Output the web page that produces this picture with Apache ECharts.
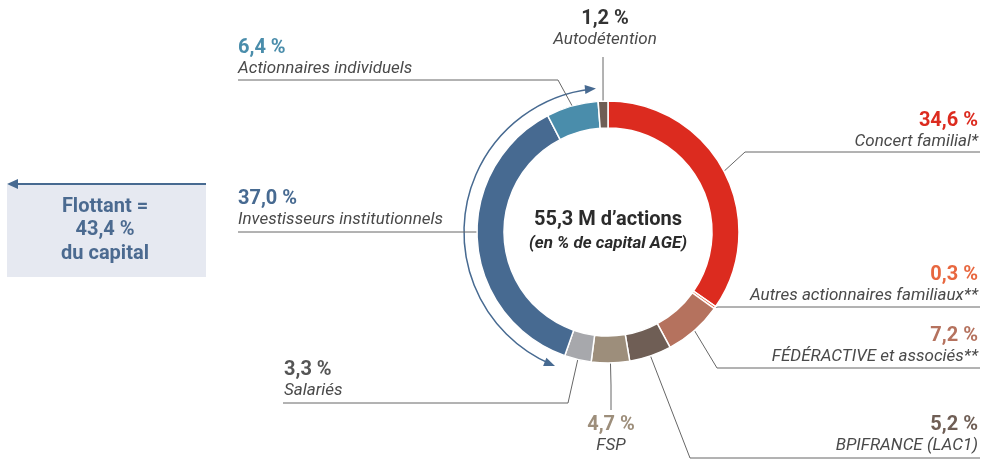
<!DOCTYPE html>
<html>
<head>
<meta charset="utf-8">
<script src="https://cdn.jsdelivr.net/npm/echarts@6/dist/echarts.min.js"></script>
<style>
  html, body { margin: 0; padding: 0; background: #fff; }
  #main { width: 981px; height: 459px; }
</style>
</head>
<body>
<div id="main"></div>
<script>
// Répartition du capital AGE
var names = ['Concert familial*', 'Autres actionnaires familiaux**', 'FÉDÉRACTIVE et associés**',
  'BPIFRANCE (LAC1)', 'FSP', 'Salariés', 'Investisseurs institutionnels',
  'Actionnaires individuels', 'Autodétention'];
var values = [34.6, 0.3, 7.2, 5.2, 4.7, 3.3, 37.0, 6.4, 1.2];
var pctLabels = ['34,6 %', '0,3 %', '7,2 %', '5,2 %', '4,7 %', '3,3 %', '37,0 %', '6,4 %', '1,2 %'];
var colors = ['#dc2b1f', '#e4603c', '#b5725e', '#6f5e55', '#9d8e7b', '#a7a8ac', '#476a91', '#4a8dab', '#6f5e55'];
var pctColors = ['#dc2b1f', '#e8673f', '#b5725e', '#6f5e55', '#9d8e7b', '#555555', '#476a91', '#4a8dab', '#333333'];
var floatText = ['Flottant =', '43,4 %', 'du capital'];
var centerTitle = '55,3 M d\u2019actions';
var centerSub = '(en % de capital AGE)';

// géométrie
var CX = 608, CY = 232, R_IN = 104, R_OUT = 131;

// position des étiquettes (x, bas du bloc, alignement, coude, fin du trait)
var labelPos = [
  { x: 978, y: 152, align: 'right', elbow: [745, 152], end: [980, 152] },
  { x: 978, y: 306, align: 'right', elbow: [718, 307], end: [980, 307] },
  { x: 978, y: 367, align: 'right', elbow: [717, 368], end: [980, 368] },
  { x: 978, y: 456, align: 'right', elbow: [690, 458], end: [980, 458] },
  { x: 611, y: 456, align: 'center', elbow: [611, 385], end: [611, 410] },
  { x: 284, y: 401, align: 'left', elbow: [568, 403], end: [283, 403] },
  { x: 238, y: 230, align: 'left', start: 180, elbow: [400, 232], end: [238, 232] },
  { x: 238, y: 79, align: 'left', elbow: [558, 80], end: [238, 80] },
  { x: 605, y: 50, align: 'center', elbow: [603, 70], end: [603, 57] }
];

var chart = echarts.init(document.getElementById('main'), null, { renderer: 'canvas' });

var data = values.map(function (v, i) {
  return {
    name: names[i],
    value: v,
    itemStyle: { color: colors[i] },
    label: {
      formatter: '{p|' + pctLabels[i] + '}\n{n|' + names[i] + '}',
      rich: {
        p: { fontSize: 20, fontWeight: 'bold', color: pctColors[i], lineHeight: 22, fontFamily: 'Roboto' },
        n: { fontSize: 17, fontStyle: 'italic', color: '#4a4a4a', lineHeight: 20, fontFamily: 'Roboto' }
      }
    }
  };
});

// flèche courbe du flottant
function arrowHead(x, y, dx, dy) {
  var len = 11, w = 4.5;
  var nx = -dy, ny = dx;
  return [[x, y], [x - dx * len + nx * w, y - dy * len + ny * w], [x - dx * len - nx * w, y - dy * len - ny * w]];
}
var ARC_R = 144;
var a1 = 111.6 * Math.PI / 180, a2 = 265.2 * Math.PI / 180;
var topTip = [CX + ARC_R * Math.cos(a2), CY + ARC_R * Math.sin(a2)];
var botTip = [CX + ARC_R * Math.cos(a1), CY + ARC_R * Math.sin(a1)];

var option = {
  animation: false,
  series: [{
    type: 'pie',
    center: [CX, CY],
    radius: [R_IN, R_OUT],
    startAngle: 90,
    clockwise: true,
    avoidLabelOverlap: false,
    silent: true,
    itemStyle: { borderColor: '#fff', borderWidth: 1.5 },
    label: { show: true, position: 'outside' },
    labelLine: { show: true, length: 10, length2: 10, lineStyle: { color: '#666', width: 1 } },
    labelLayout: function (params) {
      var L = labelPos[params.dataIndex];
      var p0;
      if (L.start !== undefined) {
        var a = L.start * Math.PI / 180;
        p0 = [CX + R_OUT * Math.cos(a), CY - R_OUT * Math.sin(a)];
      } else {
        p0 = params.labelLinePoints ? params.labelLinePoints[0] : [CX, CY];
      }
      return {
        x: L.x,
        y: L.y,
        align: L.align,
        verticalAlign: 'bottom',
        labelLinePoints: [p0, L.elbow, L.end]
      };
    },
    data: data
  }],
  graphic: [
    {
      type: 'text', x: CX, y: CY - 12,
      style: { text: centerTitle, align: 'center', verticalAlign: 'middle', font: 'bold 20px Roboto', fill: '#2b2b2b' }
    },
    {
      type: 'text', x: CX, y: CY + 12,
      style: { text: centerSub, align: 'center', verticalAlign: 'middle', font: 'italic bold 17px Roboto', fill: '#2b2b2b' }
    },
    {
      type: 'arc',
      shape: { cx: CX, cy: CY, r: ARC_R, startAngle: a1 + 0.03, endAngle: a2 - 0.03, clockwise: true },
      style: { stroke: '#476a91', lineWidth: 1.5, fill: null }
    },
    {
      type: 'polygon',
      shape: { points: arrowHead(topTip[0], topTip[1], -Math.sin(a2), Math.cos(a2)) },
      style: { fill: '#476a91' }
    },
    {
      type: 'polygon',
      shape: { points: arrowHead(botTip[0], botTip[1], Math.sin(a1), -Math.cos(a1)) },
      style: { fill: '#476a91' }
    },
    // encadré flottant
    {
      type: 'rect', shape: { x: 7, y: 185, width: 199, height: 92 },
      style: { fill: '#e6e9f1' }
    },
    {
      type: 'line', shape: { x1: 206, y1: 184, x2: 14, y2: 184 },
      style: { stroke: '#476a91', lineWidth: 2 }
    },
    {
      type: 'polygon', shape: { points: [[7, 184], [18, 179], [18, 189]] },
      style: { fill: '#476a91' }
    },
    {
      type: 'text', x: 105, y: 230,
      style: {
        text: floatText.join('\n'), align: 'center', verticalAlign: 'middle',
        font: 'bold 20px Roboto', lineHeight: 23.5, fill: '#4b6a90'
      }
    }
  ]
};

chart.setOption(option);
</script>
</body>
</html>
